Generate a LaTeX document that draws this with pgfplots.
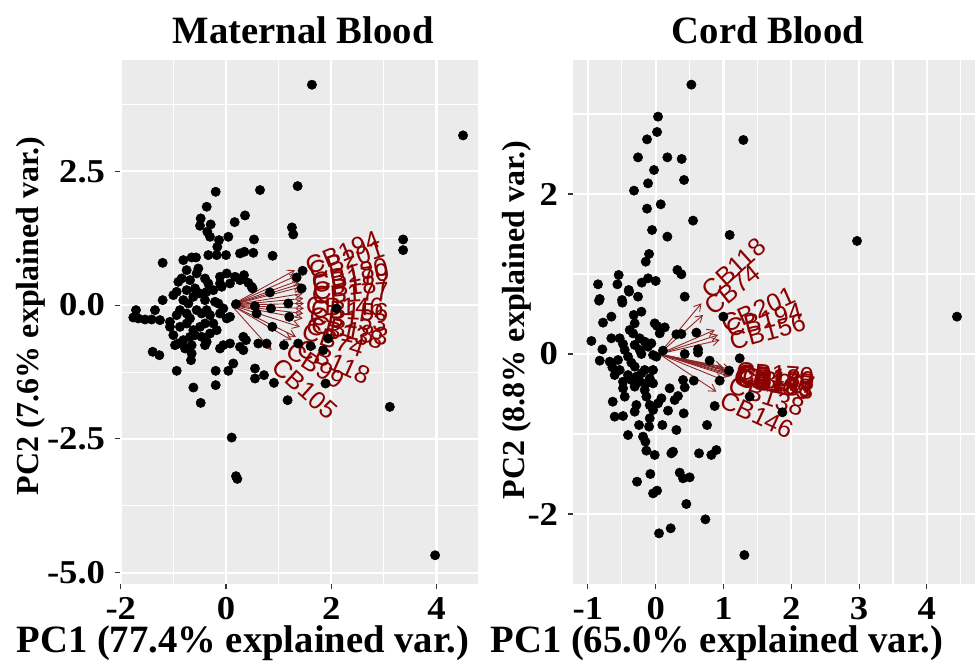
\documentclass[border=0pt]{standalone}
\usepackage{fontspec}
\setmainfont{Liberation Serif}
\newfontfamily\arial{Liberation Sans}
\newfontfamily\tickfont[FakeStretch=1.1]{Liberation Serif}
\usepackage{pgfplots}
\pgfplotsset{compat=1.18}
\usepackage{pgfplotstable}
\usetikzlibrary{arrows.meta}

\definecolor{panelbg}{HTML}{EBEBEB}
\definecolor{arrowred}{HTML}{8B2323}
\definecolor{labelred}{HTML}{8B0000}

% PC scores, maternal blood
\pgfplotstableread{
x y
-0.355 1.371
-0.304 1.277
-0.133 1.215
0.044 1.277
-0.165 1.090
-0.336 0.935
-0.177 0.935
0.000 0.935
0.266 0.966
0.349 0.997
-1.204 0.791
-0.811 0.841
-0.653 0.891
-0.570 0.891
-0.748 0.654
-0.526 0.685
-0.558 0.592
0.013 0.592
0.171 0.530
0.266 0.467
-0.906 0.436
-0.843 0.498
-0.684 0.467
-0.399 0.498
-0.336 0.405
-0.114 0.405
-0.082 0.343
0.076 0.405
-0.938 0.249
-0.748 0.280
-0.589 0.312
-0.494 0.218
-0.368 0.249
-0.241 0.280
-0.621 0.156
-0.399 0.093
-0.209 0.062
-0.146 0.031
-1.204 0.093
-1.001 0.187
-0.811 0.093
-0.716 0.031
-1.711 -0.093
-1.762 -0.231
-1.667 -0.249
-1.540 -0.268
-1.413 -0.268
-1.350 -0.093
-1.255 -0.280
-1.065 -0.312
-0.938 -0.187
-0.875 -0.093
-0.748 -0.156
-0.684 -0.249
-0.558 -0.093
-0.463 -0.156
-0.368 -0.093
-0.304 -0.187
-0.114 -0.156
-0.051 -0.062
-1.065 -0.405
-0.875 -0.405
-0.748 -0.343
-0.621 -0.467
-0.494 -0.405
-0.399 -0.343
-0.241 -0.343
-0.177 -0.467
0.013 -0.249
0.076 -0.218
0.190 0.019
-1.001 -0.561
-0.906 -0.717
-0.811 -0.654
-0.684 -0.592
-0.589 -0.561
-0.463 -0.592
-0.368 -0.685
-0.304 -0.530
-0.970 -0.748
-0.779 -0.810
-0.653 -0.748
-0.399 -0.748
-0.114 -0.810
-0.051 -0.748
0.076 -0.717
0.266 -0.779
0.330 -0.841
0.330 -0.592
0.380 -0.654
-1.394 -0.872
-1.267 -0.935
-0.653 -0.903
-0.665 -1.028
0.139 -1.090
1.633 4.118
4.506 3.171
1.361 2.224
0.646 2.150
-0.196 2.118
-0.367 1.838
0.361 1.676
0.165 1.551
-0.481 1.620
-0.494 1.483
-0.291 1.508
0.532 1.227
1.253 1.452
1.278 1.321
3.367 1.227
3.367 1.028
0.519 0.978
0.886 0.922
1.456 0.642
1.342 0.517
1.437 0.312
0.835 0.237
0.854 -0.062
1.184 0.031
1.203 -0.218
0.582 -0.156
0.551 -0.019
0.880 -0.405
1.101 -0.748
1.373 -0.717
1.608 -0.766
1.848 -0.841
1.943 -0.623
2.101 -0.062
0.614 -0.717
0.772 -0.717
0.551 -1.184
0.551 -1.371
0.722 -1.308
0.911 -1.452
1.171 -1.776
1.892 -1.464
3.114 -1.900
0.108 -2.474
0.190 -3.196
0.215 -3.246
3.975 -4.673
-0.937 -1.227
-0.620 -1.539
-0.481 -1.826
-0.196 -1.495
-0.196 -1.227
0.044 -1.227
0.487 0.343
0.342 0.561
0.424 0.417
0.506 0.312
-0.114 0.530
}\maternal

% PC scores, cord blood
\pgfplotstableread{
x y
0.034 2.967
0.020 2.775
-0.128 2.683
-0.261 2.458
0.172 2.458
0.383 2.438
-0.025 2.300
0.418 2.175
-0.113 2.133
-0.320 2.042
-0.128 1.817
0.074 1.871
0.551 1.667
-0.054 1.550
0.172 1.467
-0.098 1.250
-0.147 1.154
0.320 1.050
0.379 0.996
-0.546 0.988
-0.851 0.871
-0.565 0.871
-0.206 0.892
-0.113 0.946
0.000 0.913
-0.398 0.800
-0.261 0.717
-0.826 0.688
-0.497 0.675
0.428 0.717
0.526 3.367
1.293 2.675
1.091 1.488
2.970 1.413
4.444 0.467
0.998 0.467
1.239 -0.054
0.944 -0.333
1.082 -0.208
1.386 -0.533
1.868 -0.729
1.308 -2.513
-0.393 0.779
-0.836 0.667
-0.492 0.642
-0.211 0.529
-0.324 0.488
-0.654 0.467
-0.777 0.392
-0.310 0.383
-0.015 0.383
0.020 0.350
0.133 0.333
-0.383 0.300
-0.334 0.258
0.059 0.258
0.305 0.246
0.379 0.250
0.600 0.267
-0.654 0.196
-0.531 0.196
-0.236 0.196
-0.949 0.163
-0.162 0.154
-0.064 0.133
-0.482 0.125
-0.310 0.113
-0.113 0.092
-0.787 0.058
-0.457 0.050
-0.236 0.050
0.108 0.042
-0.211 0.000
-0.039 -0.013
0.010 -0.033
0.624 0.058
0.624 0.017
0.428 0.000
-0.408 -0.033
-0.826 -0.083
-0.678 -0.096
-0.556 -0.075
-0.359 -0.108
-0.639 -0.167
-0.531 -0.200
-0.310 -0.158
-0.162 -0.200
-0.039 -0.200
0.796 -0.083
-0.605 -0.263
-0.408 -0.263
-0.285 -0.283
-0.211 -0.242
-0.088 -0.304
-0.482 -0.346
-0.359 -0.325
-0.236 -0.346
-0.138 -0.367
-0.039 -0.367
0.403 -0.325
0.561 -0.333
-0.482 -0.429
-0.310 -0.408
-0.162 -0.450
0.206 -0.429
0.428 -0.417
-0.457 -0.533
-0.138 -0.533
0.329 -0.525
0.084 -0.554
-0.634 -0.596
-0.285 -0.638
-0.088 -0.638
0.034 -0.617
0.280 -0.575
-0.039 -0.700
-0.310 -0.721
0.182 -0.708
0.870 -0.650
-0.605 -0.783
-0.482 -0.775
-0.088 -0.804
0.413 -0.742
-0.246 -0.888
-0.098 -0.908
0.098 -0.888
0.305 -0.950
0.757 -0.888
-0.408 -1.013
-0.187 -1.033
-0.152 -1.096
-0.138 -1.208
-0.015 -1.262
0.231 -1.242
0.256 -1.221
0.639 -1.242
0.821 -1.262
0.895 -1.200
-0.275 -1.596
-0.079 -1.500
0.354 -1.483
0.403 -1.554
0.501 -1.542
-0.039 -1.742
0.020 -1.708
0.452 -1.875
0.733 -2.067
0.049 -2.242
0.221 -2.179
}\cord

\pgfplotsset{
  biplot/.style={
    scale only axis, anchor=south west, height=393pt,
    axis background/.style={fill=panelbg},
    axis line style={draw=none},
    grid=both,
    major grid style={white, line width=1.6pt},
    minor grid style={white, line width=0.8pt},
    tick pos=left, tick align=outside,
    major tick length=4pt, minor tick length=0pt,
    tick style={black!80, line width=0.8pt},
    ticklabel style={font=\tickfont\fontsize{25}{25}\selectfont\bfseries},
    xticklabel style={inner sep=6pt},
    yticklabel style={inner sep=7pt},
  },
  pts/.style={only marks, mark=*, mark size=3.5pt, black},
  arr/.style={arrowred, line width=0.65pt, -{Straight Barb[length=5pt,width=6pt]}},
}
\tikzset{lab/.style={labelred, font=\arial\fontsize{19}{19}\selectfont, inner sep=0pt}}

\begin{document}
\begin{tikzpicture}
\path[use as bounding box] (0,0) rectangle (732pt,501.75pt);

% ---- maternal blood
\begin{axis}[biplot,
    at={(90pt,63.75pt)}, width=268.5pt,
    xmin=-2.015, xmax=4.79, ymin=-5.21, ymax=4.58,
    xtick={-2,0,2,4}, xticklabels={-2,0,2,4}, minor xtick={-1,1,3},
    ytick={-5,-2.5,0,2.5}, yticklabels={-5.0,-2.5,0.0,2.5},
    minor ytick={-3.75,-1.25,1.25,3.75}]
  \addplot[pts] table {\maternal};
  \addplot[arr] coordinates {(0.1,0) (1.310,0.654)};
  \addplot[arr] coordinates {(0.1,0) (1.360,0.560)};
  \addplot[arr] coordinates {(0.1,0) (1.405,0.467)};
  \addplot[arr] coordinates {(0.1,0) (1.425,0.400)};
  \addplot[arr] coordinates {(0.1,0) (1.437,0.343)};
  \addplot[arr] coordinates {(0.1,0) (1.456,0.218)};
  \addplot[arr] coordinates {(0.1,0) (1.468,0.125)};
  \addplot[arr] coordinates {(0.1,0) (1.481,0.031)};
  \addplot[arr] coordinates {(0.1,0) (1.481,-0.062)};
  \addplot[arr] coordinates {(0.1,0) (1.468,-0.156)};
  \addplot[arr] coordinates {(0.1,0) (1.456,-0.249)};
  \addplot[arr] coordinates {(0.1,0) (1.405,-0.405)};
  \addplot[arr] coordinates {(0.1,0) (1.329,-0.592)};
  \addplot[arr] coordinates {(0.1,0) (1.247,-0.654)};
  \addplot[arr] coordinates {(0.1,0) (0.867,-0.841)};
  \node[lab, rotate=22]  at (axis cs:2.215,0.978)  {CB194};
  \node[lab, rotate=18]  at (axis cs:2.291,0.841)  {CB201};
  \node[lab, rotate=12]  at (axis cs:2.354,0.573)  {CB180};
  \node[lab, rotate=10]  at (axis cs:2.367,0.498)  {CB170};
  \node[lab, rotate=7]   at (axis cs:2.386,0.343)  {CB187};
  \node[lab, rotate=4]   at (axis cs:2.367,0.218)  {CB177};
  \node[lab, rotate=-1]  at (axis cs:2.259,-0.031) {CB146};
  \node[lab, rotate=-3]  at (axis cs:2.354,-0.106) {CB156};
  \node[lab, rotate=-6]  at (axis cs:2.323,-0.268) {CB153};
  \node[lab, rotate=-10] at (axis cs:2.354,-0.480) {CB183};
  \node[lab, rotate=-12] at (axis cs:2.259,-0.517) {CB138};
  \node[lab, rotate=-18] at (axis cs:2.038,-0.654) {CB74};
  \node[lab, rotate=-24] at (axis cs:2.051,-1.059) {CB118};
  \node[lab, rotate=-33] at (axis cs:1.709,-1.121) {CB99};
  \node[lab, rotate=-42] at (axis cs:1.500,-1.558) {CB105};
\end{axis}

% ---- cord blood
\begin{axis}[biplot,
    at={(429.75pt,63.75pt)}, width=301.5pt,
    xmin=-1.22, xmax=4.71, ymin=-2.875, ymax=3.675,
    xtick={-1,0,1,2,3,4}, xticklabels={-1,0,1,2,3,4},
    minor xtick={-0.5,0.5,1.5,2.5,3.5,4.5},
    ytick={-2,0,2}, yticklabels={-2,0,2}, minor ytick={-1,1,3}]
  \addplot[pts] table {\cord};
  \addplot[arr] coordinates {(0.05,0) (0.674,0.633)};
  \addplot[arr] coordinates {(0.05,0) (0.698,0.488)};
  \addplot[arr] coordinates {(0.05,0) (0.870,0.300)};
  \addplot[arr] coordinates {(0.05,0) (0.919,0.238)};
  \addplot[arr] coordinates {(0.05,0) (0.944,0.175)};
  \addplot[arr] coordinates {(0.05,0) (0.990,-0.160)};
  \addplot[arr] coordinates {(0.05,0) (1.020,-0.200)};
  \addplot[arr] coordinates {(0.05,0) (1.100,-0.190)};
  \addplot[arr] coordinates {(0.05,0) (1.120,-0.210)};
  \addplot[arr] coordinates {(0.05,0) (1.130,-0.230)};
  \addplot[arr] coordinates {(0.05,0) (1.120,-0.250)};
  \addplot[arr] coordinates {(0.05,0) (1.130,-0.270)};
  \addplot[arr] coordinates {(0.05,0) (1.090,-0.280)};
  \addplot[arr] coordinates {(0.05,0) (0.993,-0.325)};
  \addplot[arr] coordinates {(0.05,0) (0.895,-0.471)};
  \node[lab, rotate=42]  at (axis cs:1.150,1.071)  {CB118};
  \node[lab, rotate=39]  at (axis cs:1.131,0.800)  {CB74};
  \node[lab, rotate=24]  at (axis cs:1.510,0.550)  {CB201};
  \node[lab, rotate=14]  at (axis cs:1.600,0.425)  {CB194};
  \node[lab, rotate=15]  at (axis cs:1.650,0.279)  {CB156};
  \node[lab, rotate=-4]  at (axis cs:1.760,-0.250) {CB170};
  \node[lab, rotate=-6]  at (axis cs:1.770,-0.290) {CB180};
  \node[lab, rotate=-7]  at (axis cs:1.760,-0.310) {CB187};
  \node[lab, rotate=-8]  at (axis cs:1.780,-0.330) {CB177};
  \node[lab, rotate=-9]  at (axis cs:1.740,-0.340) {CB99};
  \node[lab, rotate=-9]  at (axis cs:1.750,-0.360) {CB153};
  \node[lab, rotate=-10] at (axis cs:1.770,-0.380) {CB183};
  \node[lab, rotate=-12] at (axis cs:1.720,-0.370) {CB105};
  \node[lab, rotate=-18] at (axis cs:1.632,-0.533) {CB138};
  \node[lab, rotate=-25] at (axis cs:1.495,-0.763) {CB146};
\end{axis}

% titles and axis titles
\begin{scope}[every node/.style={font=\fontsize{29}{29}\selectfont\bfseries, inner sep=0pt}]
  \node at (227.25pt,479.25pt) {Maternal Blood};
  \node at (576pt,479.25pt) {Cord Blood};
  \node at (182.25pt,19.5pt) {PC1 (77.4\% explained var.)};
  \node at (537.75pt,19.5pt) {PC1 (65.0\% explained var.)};
\end{scope}
\begin{scope}[every node/.style={font=\fontsize{24}{24}\selectfont\bfseries, inner sep=0pt, rotate=90}]
  \node at (23.25pt,264.75pt) {PC2 (7.6\% explained var.)};
  \node at (387.75pt,261.75pt) {PC2 (8.8\% explained var.)};
\end{scope}
\end{tikzpicture}
\end{document}
